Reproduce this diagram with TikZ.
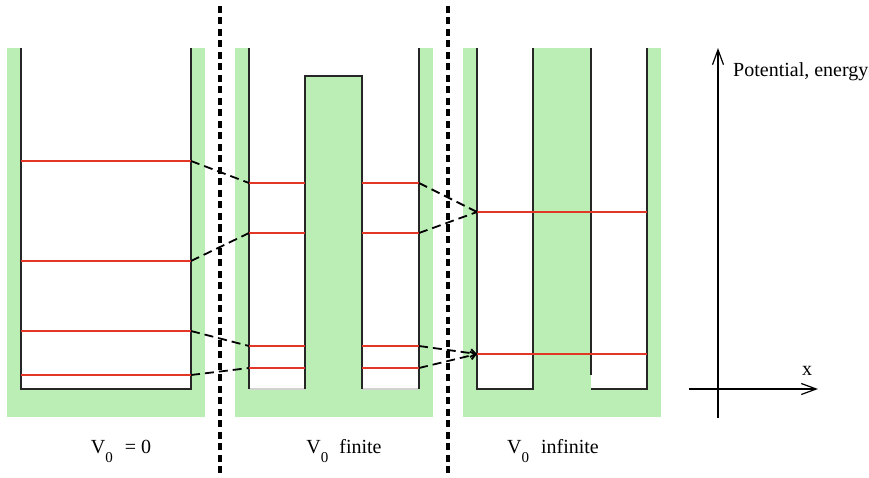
\documentclass[tikz,border=0pt]{standalone}
\usepackage{fontspec}
\setmainfont{Liberation Serif}
\usepackage{xcolor}
\usetikzlibrary{arrows.meta}
\definecolor{wellgreen}{RGB}{187,238,181}
\definecolor{levelred}{RGB}{226,54,38}
\newcommand{\Vzero}{V\raisebox{-9pt}{\fontsize{15}{15}\selectfont 0}}

\begin{document}
\begin{tikzpicture}[x=1pt,y=-1pt,every node/.style={font=\fontsize{20}{24}\selectfont,inner sep=0pt},
  wall/.style={line width=1.3pt,black!85},
  level/.style={line width=1.5pt,levelred},
  link/.style={line width=1.8pt,dash pattern=on 9pt off 5pt},
  divider/.style={line width=3.6pt,dash pattern=on 7pt off 4.5pt},
  axis/.style={line width=1.2pt,-{Straight Barb[length=15pt,width=11pt]}}]
\useasboundingbox (0,0) rectangle (869,478);
% V0 = 0
\fill[wellgreen] (7,48) rectangle (205,417);
\fill[white] (21,48) rectangle (191,389);
\draw[wall] (21,48) -- (21,389) -- (191,389) -- (191,48);
\foreach \y/\n in {161/a,261/b,331/c,375/d}{
  \draw[level] (21,\y) -- (191,\y);
  \coordinate (free\n) at (191,\y);
}
% V0 finite
\fill[wellgreen] (235,48) rectangle (433,417);
\fill[white] (249,48) rectangle (419,389);
\fill[wellgreen] (305,76) rectangle (362,389);
\draw[gray!35,line width=1.3pt] (249,389) -- (305,389) (362,389) -- (419,389);
\draw[wall] (249,48) -- (249,389);
\draw[wall] (305,389) -- (305,76) -- (362,76) -- (362,389);
\draw[wall] (419,48) -- (419,389);
\foreach \y/\n in {183/a,233/b,346/c,368/d}{
  \draw[level] (249,\y) -- (305,\y) (362,\y) -- (419,\y);
  \coordinate (finl\n) at (249,\y);
  \coordinate (finr\n) at (419,\y);
}
% V0 infinite
\fill[wellgreen] (463,48) rectangle (661,417);
\fill[white] (477,48) rectangle (533,389);
\fill[white] (591,48) rectangle (647,389);
\draw[wall] (477,48) -- (477,389) -- (533,389) -- (533,48);
\draw[wall] (591,48) -- (591,375);
\draw[wall] (591,389) -- (647,389) -- (647,48);
\foreach \y/\n in {212/a,354/b}{
  \draw[level] (477,\y) -- (647,\y);
  \coordinate (inf\n) at (477,\y);
}
% correlation lines
\draw[link] (freea) -- (finla);
\draw[link] (freeb) -- (finlb);
\draw[link] (freec) -- (finlc);
\draw[link] (freed) -- (finld);
\draw[link] (finra) -- (infa);
\draw[link] (finrb) -- (infa);
\draw[link,-{Straight Barb[length=5pt,width=8pt]}] (finrc) -- (infb);
\draw[link,-{Straight Barb[length=5pt,width=8pt]}] (finrd) -- (infb);
% dividers
\draw[divider] (220,6) -- (220,478);
\draw[divider] (448,6) -- (448,478);
% axes
\coordinate (yfoot) at (718,418);
\coordinate (ytip) at (718,48);
\coordinate (xfoot) at (689,389);
\coordinate (xtip) at (818,389);
\draw[axis] (yfoot) -- (ytip);
\draw[axis] (xfoot) -- (xtip);
\node[anchor=base west] (ylab) at (733,77) {Potential, energy};
\node[anchor=base west] (xlab) at (802,375) {x};
% labels
\node[anchor=base] (freelab) at (121,453) {\Vzero\hspace{12pt}= 0};
\node[anchor=base] (finlab) at (344,453) {\Vzero\hspace{11pt}finite};
\node[anchor=base] (inflab) at (553,453) {\Vzero\hspace{12pt}infinite};
\end{tikzpicture}
\end{document}
